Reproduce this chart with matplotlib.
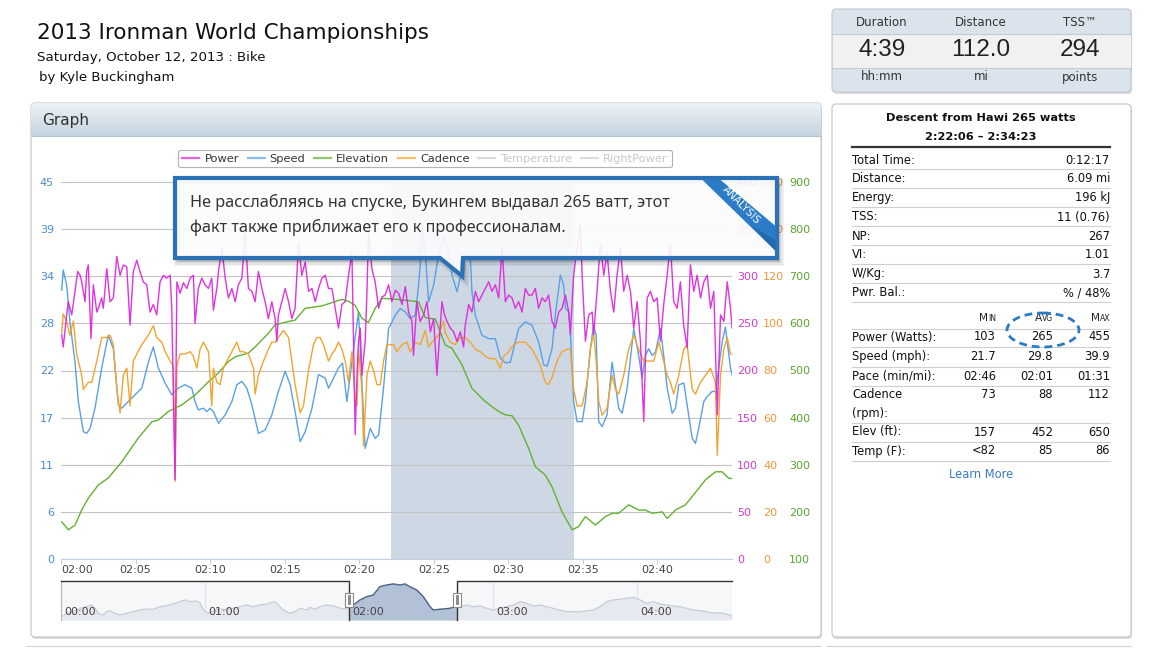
import numpy as np
import matplotlib
matplotlib.use("Agg")
import matplotlib.pyplot as plt
from matplotlib.patches import FancyBboxPatch, Polygon, Ellipse, Rectangle
from matplotlib.lines import Line2D
from matplotlib.ticker import MultipleLocator, FuncFormatter
from matplotlib.colors import LinearSegmentedColormap

plt.rcParams['font.family'] = ['DejaVu Sans']

# =============================================================================
# Date: ride 2:00 - 2:45 (minute dupa 02:00, valoare)
# =============================================================================
power = [
    (0.05, 238), (0.15, 225), (0.38, 259), (0.49, 273), (0.72, 259), (0.94, 284), (1.12, 305), (1.28, 301),
    (1.39, 294), (1.61, 273), (1.72, 305), (1.83, 312), (2.01, 234), (2.17, 291), (2.40, 262), (2.50, 266),
    (2.73, 277), (2.84, 266), (3.07, 308), (3.29, 273), (3.51, 277), (3.74, 321), (3.96, 301), (4.18, 312),
    (4.41, 310), (4.63, 248), (4.85, 305), (5.08, 317), (5.30, 305), (5.52, 294), (5.75, 291), (5.97, 262),
    (6.19, 270), (6.42, 259), (6.64, 294), (6.87, 301), (7.09, 298), (7.32, 301), (7.43, 266), (7.54, 169),
    (7.65, 84), (7.77, 294), (7.99, 282), (8.21, 293), (8.44, 287), (8.66, 298), (8.88, 301), (8.99, 250),
    (9.21, 287), (9.44, 298), (9.66, 291), (9.89, 287), (10.11, 298), (10.22, 264), (10.45, 287), (10.56, 305),
    (10.79, 330), (11.01, 298), (11.23, 277), (11.46, 287), (11.68, 273), (11.90, 291), (12.13, 298), (12.35, 345),
    (12.57, 287), (12.80, 284), (13.02, 273), (13.24, 305), (13.47, 287), (13.69, 273), (13.91, 255), (14.14, 273),
    (14.36, 255), (14.48, 231), (14.58, 259), (14.81, 273), (15.03, 287), (15.26, 273), (15.48, 255), (15.70, 266),
    (15.93, 335), (16.15, 301), (16.38, 315), (16.60, 284), (16.83, 287), (17.05, 273), (17.27, 287), (17.50, 298),
    (17.72, 301), (17.94, 287), (18.17, 287), (18.39, 266), (18.61, 245), (18.84, 270), (19.06, 273), (19.28, 301),
    (19.51, 325), (19.73, 132), (19.85, 195), (19.95, 231), (20.07, 245), (20.18, 195), (20.40, 231), (20.52, 284),
    (20.62, 345), (20.85, 308), (21.07, 294), (21.30, 266), (21.52, 278), (21.74, 280), (21.97, 291), (22.19, 273),
    (22.42, 285), (22.64, 282), (22.87, 270), (23.09, 289), (23.31, 262), (23.54, 252), (23.64, 216), (23.87, 273),
    (24.09, 252), (24.32, 259), (24.54, 273), (24.77, 241), (24.99, 255), (25.21, 195), (25.44, 248), (25.55, 273),
    (25.72, 259), (25.89, 252), (26.11, 245), (26.33, 241), (26.56, 231), (26.78, 241), (27.00, 225), (27.11, 248),
    (27.34, 270), (27.56, 262), (27.79, 284), (28.01, 273), (28.23, 280), (28.46, 287), (28.68, 294), (28.91, 284),
    (29.13, 291), (29.35, 277), (29.58, 330), (29.80, 273), (30.02, 280), (30.25, 277), (30.47, 266), (30.69, 273),
    (30.92, 262), (31.14, 287), (31.36, 280), (31.59, 280), (31.81, 287), (32.03, 266), (32.26, 277), (32.48, 273),
    (32.70, 280), (32.93, 252), (33.15, 245), (33.38, 262), (33.60, 266), (33.83, 280), (34.05, 262), (34.16, 238),
    (34.38, 301), (34.61, 330), (34.83, 355), (34.95, 301), (35.17, 231), (35.39, 259), (35.62, 262), (35.72, 238),
    (35.95, 284), (36.17, 335), (36.40, 301), (36.62, 325), (36.85, 284), (37.07, 262), (37.29, 301), (37.52, 330),
    (37.74, 284), (37.97, 301), (38.19, 284), (38.41, 245), (38.64, 273), (38.86, 231), (39.08, 146), (39.31, 277),
    (39.53, 284), (39.75, 273), (39.98, 277), (40.20, 231), (40.42, 270), (40.65, 301), (40.87, 335), (41.09, 273),
    (41.32, 266), (41.54, 294), (41.76, 248), (41.99, 224), (42.21, 312), (42.44, 284), (42.66, 301), (42.89, 277),
    (43.11, 294), (43.34, 301), (43.56, 266), (43.78, 284), (44.01, 153), (44.23, 259), (44.45, 252), (44.68, 294),
    (44.90, 266), (45.00, 245),
]

speed = [
    (0.05, 32.1), (0.15, 34.5), (0.38, 32.7), (0.60, 28.3), (0.94, 23.5), (1.16, 18.8), (1.50, 15.2), (1.72, 15.0),
    (1.95, 15.6), (2.28, 18.0), (2.73, 22.8), (3.17, 26.7), (3.51, 25.1), (3.85, 18.4), (4.07, 18.0), (4.52, 18.8),
    (4.97, 19.6), (5.42, 20.4), (5.86, 23.5), (6.19, 25.3), (6.53, 22.8), (6.98, 21.0), (7.43, 19.6), (7.87, 20.4),
    (8.32, 20.8), (8.77, 20.4), (8.99, 18.8), (9.21, 17.8), (9.55, 18.0), (9.78, 17.6), (10.00, 18.0), (10.22, 17.6),
    (10.56, 16.2), (11.01, 17.2), (11.46, 18.8), (11.79, 20.8), (12.13, 21.2), (12.46, 20.4), (12.80, 18.4), (13.24, 15.0),
    (13.69, 15.4), (14.14, 17.2), (14.58, 20.0), (15.03, 22.4), (15.37, 20.8), (15.70, 17.6), (16.04, 14.0), (16.38, 15.2),
    (16.83, 18.0), (17.27, 22.0), (17.72, 21.6), (17.94, 20.4), (18.17, 21.2), (18.61, 22.8), (18.88, 23.4), (19.17, 18.8),
    (19.51, 23.5), (19.95, 29.5), (20.40, 13.2), (20.74, 15.6), (21.07, 14.4), (21.30, 14.8), (21.63, 20.4), (21.97, 27.5),
    (22.42, 29.1), (22.75, 29.9), (23.09, 29.5), (23.42, 28.7), (23.76, 29.1), (23.98, 32.7), (24.09, 35.1), (24.21, 39.9),
    (24.43, 36.7), (24.65, 30.7), (24.99, 32.7), (25.32, 36.3), (25.66, 38.5), (25.99, 36.7), (26.22, 33.9), (26.56, 31.9),
    (27.11, 36.3), (27.45, 35.9), (27.56, 31.9), (27.79, 29.1), (28.23, 26.7), (28.68, 26.3), (29.13, 26.3), (29.46, 24.0),
    (29.80, 23.4), (30.13, 23.5), (30.47, 25.9), (30.69, 27.5), (31.14, 28.3), (31.59, 27.9), (32.03, 25.9), (32.37, 23.2),
    (32.60, 23.0), (32.93, 25.1), (33.15, 29.1), (33.49, 33.9), (33.71, 32.7), (33.83, 29.9), (34.05, 29.5), (34.16, 27.1),
    (34.38, 18.8), (34.61, 16.4), (34.95, 16.4), (35.17, 18.8), (35.50, 25.1), (35.72, 27.9), (35.89, 26.7), (36.06, 16.4),
    (36.29, 15.8), (36.62, 17.2), (36.96, 23.5), (37.18, 20.8), (37.40, 18.0), (37.63, 17.4), (37.97, 20.4), (38.41, 27.5),
    (38.74, 24.3), (38.97, 21.6), (39.19, 24.3), (39.42, 25.1), (39.64, 24.3), (39.87, 24.7), (40.20, 27.5), (40.42, 24.3),
    (40.65, 20.4), (40.99, 17.4), (41.21, 18.0), (41.43, 20.8), (41.77, 21.0), (41.99, 18.4), (42.33, 14.4), (42.55, 13.8),
    (42.77, 15.6), (43.11, 18.8), (43.34, 19.4), (43.67, 20.0), (43.89, 20.0), (44.11, 22.8), (44.34, 25.9), (44.56, 27.7),
    (44.68, 25.9), (44.90, 22.8), (45.00, 22.0),
]

cadence = [
    (0.05, 96), (0.15, 104), (0.38, 101), (0.60, 95), (0.83, 101), (1.05, 87), (1.39, 78), (1.50, 72),
    (1.83, 75), (2.06, 75), (2.40, 84), (2.73, 94), (3.07, 94), (3.29, 95), (3.51, 91), (3.74, 72),
    (3.96, 62), (4.18, 78), (4.41, 81), (4.63, 65), (4.85, 84), (5.08, 87), (5.42, 91), (5.86, 95),
    (6.19, 99), (6.42, 94), (6.76, 92), (6.98, 88), (7.32, 84), (7.54, 82), (7.65, 33), (7.77, 82),
    (7.99, 87), (8.32, 87), (8.66, 88), (8.88, 86), (9.11, 81), (9.33, 89), (9.55, 92), (9.89, 88),
    (10.11, 65), (10.22, 81), (10.45, 75), (10.67, 74), (10.89, 81), (11.12, 84), (11.46, 88), (11.79, 92),
    (12.01, 88), (12.23, 88), (12.57, 87), (12.91, 81), (13.02, 70), (13.24, 78), (13.58, 84), (13.91, 89),
    (14.14, 92), (14.36, 92), (14.58, 94), (14.92, 97), (15.26, 94), (15.48, 84), (15.70, 74), (16.04, 62),
    (16.26, 65), (16.60, 80), (16.93, 91), (17.16, 94), (17.38, 94), (17.60, 91), (17.94, 84), (18.17, 87),
    (18.39, 89), (18.61, 92), (18.84, 89), (19.06, 84), (19.28, 75), (19.51, 88), (19.73, 67), (19.85, 65),
    (19.95, 89), (20.18, 72), (20.29, 48), (20.52, 78), (20.74, 84), (20.96, 80), (21.19, 74), (21.41, 74),
    (21.63, 84), (21.86, 91), (21.97, 91), (22.30, 91), (22.53, 88), (22.87, 91), (23.20, 92), (23.42, 88),
    (23.76, 92), (24.09, 91), (24.43, 97), (24.65, 90), (24.88, 92), (25.32, 95), (25.66, 101), (25.77, 96),
    (26.11, 92), (26.44, 91), (26.78, 94), (27.11, 94), (27.45, 92), (27.79, 89), (28.12, 88), (28.46, 86),
    (28.79, 85), (29.13, 85), (29.46, 81), (29.68, 86), (30.02, 88), (30.36, 91), (30.69, 92), (31.14, 92),
    (31.59, 89), (31.93, 85), (32.15, 82), (32.48, 75), (32.70, 74), (32.93, 77), (33.27, 84), (33.60, 88),
    (33.94, 89), (34.16, 89), (34.38, 72), (34.61, 65), (34.95, 65), (35.28, 75), (35.50, 89), (35.72, 96),
    (35.89, 84), (36.06, 67), (36.29, 61), (36.62, 64), (36.96, 78), (37.18, 72), (37.40, 70), (37.74, 78),
    (38.07, 89), (38.41, 95), (38.74, 89), (39.08, 84), (39.42, 84), (39.75, 84), (40.09, 92), (40.42, 84),
    (40.65, 78), (40.87, 75), (41.09, 70), (41.43, 78), (41.76, 89), (41.99, 91), (42.33, 72), (42.55, 70),
    (42.89, 75), (43.22, 78), (43.56, 81), (43.89, 75), (44.01, 44), (44.23, 78), (44.45, 89), (44.68, 94),
    (44.90, 87), (45.00, 87),
]

elevation = [
    (0.05, 179), (0.49, 162), (0.94, 172), (1.39, 204), (1.83, 229), (2.50, 257), (3.17, 272), (4.07, 306),
    (5.19, 357), (6.09, 391), (6.53, 395), (7.20, 413), (8.10, 427), (8.99, 448), (9.89, 476), (10.56, 495),
    (11.23, 519), (11.68, 529), (12.57, 537), (13.02, 550), (13.91, 579), (14.36, 597), (15.26, 604), (15.70, 607),
    (16.38, 632), (17.50, 637), (18.17, 644), (18.84, 651), (19.28, 647), (19.73, 638), (20.18, 611), (20.62, 602),
    (21.07, 632), (21.52, 653), (22.19, 652), (23.98, 646), (24.43, 612), (25.10, 609), (25.77, 554), (26.22, 547),
    (26.89, 512), (27.56, 462), (28.46, 434), (29.35, 413), (29.80, 406), (30.25, 404), (30.69, 384), (31.36, 335),
    (31.81, 296), (32.48, 278), (32.93, 253), (33.60, 200), (34.28, 162), (34.72, 169), (35.17, 190), (35.84, 172),
    (36.51, 190), (36.96, 197), (37.40, 197), (38.07, 215), (38.74, 204), (39.19, 204), (39.64, 197), (40.32, 200),
    (40.65, 186), (41.21, 204), (41.88, 215), (42.77, 250), (43.22, 268), (43.89, 285), (44.34, 285), (44.79, 271),
    (45.00, 271),
]

# navigator: toata cursa (minute de la start, altitudine)
navigator = [
    (0.3, 95), (2.4, 155), (5.1, 183), (7.9, 242), (10.7, 270), (12.8, 300), (14.2, 242), (15.5, 155),
    (17.6, 125), (19.0, 183), (20.4, 200), (22.5, 155), (24.6, 125), (27.4, 155), (30.1, 183), (32.9, 212),
    (35.7, 230), (38.5, 225), (41.3, 270), (44.0, 288), (46.8, 318), (49.6, 358), (51.7, 388), (53.8, 358),
    (56.5, 370), (57.9, 340), (59.3, 212), (61.4, 155), (63.5, 200), (66.3, 225), (69.0, 225), (71.8, 242),
    (74.6, 270), (77.4, 300), (80.1, 270), (82.9, 300), (85.7, 318), (87.8, 347), (89.2, 358), (90.5, 300),
    (92.6, 212), (95.4, 155), (97.5, 183), (99.6, 242), (102.4, 212), (103.8, 260), (105.8, 225), (107.9, 270),
    (110.7, 300), (113.5, 283), (116.3, 242), (118.3, 230), (119.7, 242), (121.8, 300), (124.6, 388), (127.4, 445),
    (130.1, 475), (132.9, 620), (135.7, 650), (138.5, 668), (141.3, 650), (143.3, 668), (145.4, 620), (148.2, 563),
    (151.0, 445), (153.8, 270), (155.1, 212), (157.9, 225), (162.1, 242), (164.2, 270), (166.3, 270), (169.0, 300),
    (171.8, 270), (174.6, 283), (177.4, 242), (180.1, 212), (182.9, 242), (185.7, 270), (188.5, 300), (191.3, 358),
    (194.0, 330), (196.8, 283), (199.6, 300), (202.4, 270), (205.1, 242), (207.9, 212), (210.7, 183), (213.5, 183),
    (216.3, 183), (219.0, 200), (221.8, 212), (224.6, 270), (227.4, 358), (230.1, 388), (232.9, 400), (235.7, 418),
    (238.5, 435), (241.3, 388), (244.0, 330), (246.8, 358), (249.6, 318), (252.4, 300), (255.1, 283), (257.9, 270),
    (260.7, 242), (263.5, 212), (266.3, 200), (269.0, 183), (271.8, 155), (274.6, 165), (277.4, 143), (279.6, 108),
]
nav_end = 279.6
sel_start, sel_end = 22.1, 34.383          # 02:22:06 - 02:34:23
nav_sel = (120, 165)                       # fereastra 02:00 - 02:45

speed_ticks = [0, 5.625, 11.25, 16.875, 22.5, 28.125, 33.75, 39.375, 45]
x_ticks = [0, 5, 10, 15, 20, 25, 30, 35, 40]
nav_ticks = [0, 60, 120, 180, 240]
nav_labels = ["00:00", "01:00", "02:00", "03:00", "04:00"]

series_names = ["Power", "Speed", "Elevation", "Cadence", "Temperature", "RightPower"]
series_colors = ["#dd22dd", "#5aa0e6", "#62b032", "#f2a431", "#cccccc", "#cccccc"]

summary_heads = ["Duration", "Distance", "TSS\u2122"]
summary_vals = ["4:39", "112.0", "294"]
summary_units = ["hh:mm", "mi", "points"]

stat_labels = ["Total Time:", "Distance:", "Energy:", "TSS:", "NP:", "VI:", "W/Kg:", "Pwr. Bal.:"]
stat_values = ["0:12:17", "6.09 mi", "196 kJ", "11 (0.76)", "267", "1.01", "3.7", "% / 48%"]

range_rows = ["Power (Watts):", "Speed (mph):", "Pace (min/mi):", "Cadence\n(rpm):", "Elev (ft):", "Temp (F):"]
range_min = ["103", "21.7", "02:46", "73", "157", "<82"]
range_avg = ["265", "29.8", "02:01", "88", "452", "85"]
range_max = ["455", "39.9", "01:31", "112", "650", "86"]

callout_text = ["Не расслабляясь на спуске, Букингем выдавал 265 ватт, этот",
                "факт также приближает его к профессионалам."]

# =============================================================================
W, H = 1150, 648
fig = plt.figure(figsize=(W / 100, H / 100), dpi=100)
fig.patch.set_facecolor("white")


def px_axes(x0, y0, x1, y1, z):
    return fig.add_axes([x0 / W, 1 - y1 / H, (x1 - x0) / W, (y1 - y0) / H], zorder=z)


def pixel_canvas(z):
    a = fig.add_axes([0, 0, 1, 1], zorder=z)
    a.set_xlim(0, W)
    a.set_ylim(H, 0)
    a.axis("off")
    a.patch.set_visible(False)
    return a


def box(a, x0, y0, x1, y1, fc, ec, r=4, z=1):
    a.add_patch(FancyBboxPatch((x0 + 1, y0 + 2), x1 - x0, y1 - y0,
                               boxstyle="round,pad=0,rounding_size=%g" % r,
                               fc="#dcdcdc", ec="none", zorder=z - 0.1))
    p = FancyBboxPatch((x0, y0), x1 - x0, y1 - y0, boxstyle="round,pad=0,rounding_size=%g" % r,
                       fc=fc, ec=ec, lw=0.8, zorder=z)
    a.add_patch(p)
    return p


bg = pixel_canvas(0)

# titlu
bg.text(37, 33, "2013 Ironman World Championships", fontsize=15.5, color="#111", va="center")
bg.text(37, 57, "Saturday, October 12, 2013 : Bike", fontsize=9.6, color="#111", va="center")
bg.text(39, 78, "by Kyle Buckingham", fontsize=9.5, color="#111", va="center")

# panoul Graph
panel = box(bg, 31, 103, 821, 637, "white", "#c4c4c4")
grad = np.linspace(0, 1, 64).reshape(-1, 1)
cm = LinearSegmentedColormap.from_list("hdr", ["#ecf2f6", "#c6d4df"])
im = bg.imshow(grad, cmap=cm, extent=[31, 821, 136, 103], aspect="auto", zorder=1.05)
im.set_clip_path(panel)
bg.set_xlim(0, W)
bg.set_ylim(H, 0)
bg.plot([31.5, 820.5], [136, 136], color="#b3c1cd", lw=0.8, zorder=1.1)
bg.text(42, 120, "Graph", fontsize=11, color="#333", va="center", zorder=1.2)
bg.plot([26, 820], [646, 646], color="#d4d4d4", lw=0.8)
bg.plot([827, 1131], [646, 646], color="#d4d4d4", lw=0.8)

# caseta sumar sus dreapta
box(bg, 832, 9, 1131, 92, "#dbe4ec", "#bfc8d0")
bg.add_patch(Rectangle((832.5, 33.5), 298, 34, fc="#f1f1f1", ec="none", zorder=1.1))
for yy in (33.5, 67.5):
    bg.plot([832.5, 1130.5], [yy, yy], color="#c3ccd4", lw=0.8, zorder=1.2)
for cx, h, v, u in zip([882, 981, 1080], summary_heads, summary_vals, summary_units):
    bg.text(cx, 23, h, fontsize=8.5, color="#333", ha="center", va="center", zorder=2)
    bg.text(cx, 50, v, fontsize=17.5, color="#222", ha="center", va="center",
            family="Liberation Sans", zorder=2)
    bg.text(cx, 77, u, fontsize=8.5, color="#333", ha="center", va="center", zorder=2)

# panoul de statistici
box(bg, 832, 104, 1131, 637, "white", "#c4c4c4")
bg.text(981, 118, "Descent from Hawi 265 watts", fontsize=8.2, weight="bold", ha="center", va="center", color="#111")
bg.text(981, 137, "2:22:06 \u2013 2:34:23", fontsize=8.2, weight="bold", ha="center", va="center", color="#111")
bg.plot([852, 1110], [147, 147], color="#333", lw=1.6)
for i, (lab, val) in enumerate(zip(stat_labels, stat_values)):
    yy = 160 + 19 * i
    bg.text(852, yy, lab, fontsize=8.3, va="center", color="#111")
    bg.text(1110, yy, val, fontsize=8.3, va="center", ha="right", color="#111")
    bg.plot([852, 1110], [yy + 8.5, yy + 8.5], color="#cfcfcf", lw=0.8)

renderer = fig.canvas.get_renderer()
for xr, big, small in [(996, "M", "IN"), (1053, "A", "VG"), (1110, "M", "AX")]:
    t = bg.text(xr, 321, small, fontsize=5.6, ha="right", va="baseline", color="#222")
    w = t.get_window_extent(renderer).width
    bg.text(xr - w, 321, big, fontsize=7.6, ha="right", va="baseline", color="#222")
bg.plot([852, 1110], [328.5, 328.5], color="#cfcfcf", lw=0.8)

row_y = [337, 356.5, 376, 395, 432, 451]
for lab, yy, a, b, c in zip(range_rows, row_y, range_min, range_avg, range_max):
    if "\n" in lab:
        first, second = lab.split("\n")
        bg.text(852, yy, first, fontsize=8.3, va="center", color="#111")
        bg.text(852, yy + 18.5, second, fontsize=8.3, va="center", color="#111")
        line_y = yy + 28
    else:
        bg.text(852, yy, lab, fontsize=8.3, va="center", color="#111")
        line_y = yy + 10
    for xr, v in zip([996, 1053, 1110], [a, b, c]):
        bg.text(xr, yy, v, fontsize=8.3, va="center", ha="right", color="#111")
    bg.plot([852, 1110], [line_y, line_y], color="#cfcfcf", lw=0.8)
bg.text(981, 474, "Learn More", fontsize=8.3, ha="center", va="center", color="#3a7bc8")
bg.add_patch(Ellipse((1043, 330), 72, 34, fill=False, ec="#2a7bc4", lw=2, ls=(0, (2.8, 1.8)), zorder=3))

# =============================================================================
# graficul principal
ax = px_axes(61, 182, 732, 559, 3)
ax_e = ax.twinx()
ax_c = ax.twinx()
ax_p = ax.twinx()
for k, a in enumerate([ax_e, ax_c, ax_p]):
    a.set_zorder(3.1 + 0.1 * k)
    for s in a.spines.values():
        s.set_visible(False)

ax.axvspan(sel_start, sel_end, color="#cdd8e4", lw=0, zorder=0.3)
ax.set_axisbelow(True)
ax.yaxis.grid(True, color="#c4c4c4", lw=0.8)

t, v = zip(*speed)
ax.plot(t, v, color=series_colors[1], lw=1.0, zorder=2)
t, v = zip(*elevation)
ax_e.plot(t, v, color=series_colors[2], lw=1.0)
t, v = zip(*cadence)
ax_c.plot(t, v, color=series_colors[3], lw=1.0)
t, v = zip(*power)
ax_p.plot(t, v, color=series_colors[0], lw=1.0, alpha=0.92)

ax.set_xlim(0, 45)
ax.set_ylim(0, 45)
ax_p.set_ylim(0, 400)
ax_c.set_ylim(0, 160)
ax_e.set_ylim(100, 900)

ax.set_yticks(speed_ticks)
ax.yaxis.set_major_formatter(FuncFormatter(lambda val, pos: "%.0f" % val))
ax.tick_params(axis="y", length=0, pad=5, labelsize=8, labelcolor="#4a8bd6")

ax_p.yaxis.set_major_locator(MultipleLocator(50))
ax_p.tick_params(axis="y", length=0, pad=3.5, labelsize=8, labelcolor="#d13bd1")
ax_c.yaxis.set_major_locator(MultipleLocator(20))
ax_c.tick_params(axis="y", length=0, pad=22.5, labelsize=8, labelcolor="#f0963a")
ax_e.yaxis.set_major_locator(MultipleLocator(100))
ax_e.tick_params(axis="y", length=0, pad=41, labelsize=8, labelcolor="#5aa52e")

ax.set_xticks(x_ticks)
xl = ax.set_xticklabels(["02:%02d" % m for m in x_ticks])
xl[0].set_ha("left")
ax.tick_params(axis="x", length=3.6, color="#c0d0e0", pad=0.8, labelsize=8, labelcolor="#444")
for side in ("top", "left", "right"):
    ax.spines[side].set_visible(False)
ax.spines["bottom"].set_color("#c0d0e0")

handles = [Line2D([], [], color=c, lw=1.6, alpha=0.7) for c in series_colors]
leg = fig.legend(handles, series_names, ncol=6, loc="center", bbox_to_anchor=(425 / W, 1 - 158.5 / H),
                 fontsize=8.2, handlelength=1.5, handletextpad=0.45, columnspacing=0.75,
                 borderpad=0.35, frameon=True, fancybox=True)
leg.get_frame().set_edgecolor("#a0a0a0")
leg.get_frame().set_linewidth(0.8)
for txt, c in zip(leg.get_texts(), ["#333", "#333", "#333", "#333", "#c8c8c8", "#c8c8c8"]):
    txt.set_color(c)

# navigator
nav = px_axes(61, 581, 732, 620, 3)
nav.set_xlim(0, nav_end)
nav.set_ylim(37.5, 720)
nav.axis("off")
nav.axvspan(0, nav_sel[0], color="#f6f7f9", lw=0, zorder=0)
nav.axvspan(nav_sel[1], nav_end, color="#f6f7f9", lw=0, zorder=0)
for tk in nav_ticks:
    nav.axvline(tk, color="#e0e4ea", lw=0.8, zorder=0.5)
nt, nv = zip(*navigator)
nav.fill_between(nt, 37.5, nv, color="#e6eaf0", lw=0, zorder=1)
nav.plot(nt, nv, color="#c6ccd4", lw=0.9, zorder=1.1)
clip = Rectangle((nav_sel[0], 37.5), nav_sel[1] - nav_sel[0], 700, transform=nav.transData)
f2 = nav.fill_between(nt, 37.5, nv, color="#b2c1d6", lw=0, zorder=1.5)
l2, = nav.plot(nt, nv, color="#4b6488", lw=1.0, zorder=1.6)
f2.set_clip_path(clip)
l2.set_clip_path(clip)
xt = nav.get_xaxis_transform()
for tk, lb in zip(nav_ticks, nav_labels):
    nav.text(tk + 1.3, 0.2, lb, transform=xt, fontsize=8, color="#444", va="center", zorder=2)
nav.plot([0, 0], [0, 1], color="#b8b8b8", lw=0.8, transform=xt, clip_on=False, zorder=3)
nav.plot([0, nav_sel[0], nav_sel[0]], [1, 1, 0], color="#333", lw=1.0, transform=xt, clip_on=False, zorder=3)
nav.plot([nav_sel[1], nav_sel[1], nav_end], [0, 1, 1], color="#333", lw=1.0, transform=xt, clip_on=False, zorder=3)
for hx in nav_sel:
    nav.add_patch(FancyBboxPatch((hx - 1.6, 0.33), 3.2, 0.37, boxstyle="square,pad=0", transform=xt,
                                 fc="white", ec="#888", lw=0.8, zorder=4, clip_on=False))
    for dx in (-0.55, 0, 0.55):
        nav.plot([hx + dx, hx + dx], [0.4, 0.63], color="#777", lw=0.6, transform=xt, clip_on=False, zorder=5)

# =============================================================================
# caseta de analiza (deasupra)
top = pixel_canvas(10)
call = [(175, 178), (777, 178), (777, 258), (463, 258), (462, 276), (440, 258), (175, 258)]
for off, al, lw in [(3, 0.10, 5), (2, 0.12, 2)]:
    top.add_patch(Polygon([(x + off, y + off + 1) for x, y in call], closed=True,
                          fc=(0, 0, 0, al * 0.6), ec=(0, 0, 0, al), lw=lw, zorder=1))
top.add_patch(Polygon(call, closed=True, fc=(1, 1, 1, 0.9), ec="#2a71b8", lw=3, joinstyle="miter", zorder=2))
top.add_patch(Polygon([(702, 179.5), (720, 179.5), (775.5, 226), (775.5, 251)], closed=True,
                      fc="#2b7bc6", ec="none", zorder=3))
top.add_patch(Polygon([(752, 226), (775.5, 240), (775.5, 251)], closed=True,
                      fc="#1d5f9e", ec="none", alpha=0.6, zorder=3.1))
top.text(741, 205, "ANALYSIS", rotation=-45, fontsize=7.6, color="white", ha="center", va="center",
         rotation_mode="anchor", zorder=4)
for i, line in enumerate(callout_text):
    top.text(190, 202 + 25 * i, line, fontsize=11.7, color="#333", va="center",
             family=["Noto Sans", "DejaVu Sans"], zorder=4)

fig.savefig("out.png", dpi=100)
